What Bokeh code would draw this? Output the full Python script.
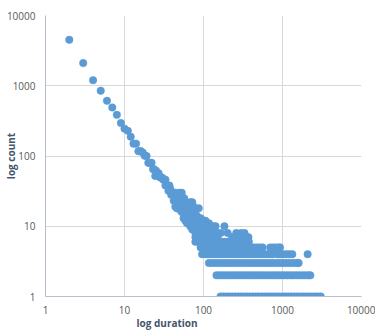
from bokeh.plotting import figure
from bokeh.models import ColumnDataSource, FixedTicker, Title
from bokeh.embed import file_html
from bokeh.resources import INLINE

# ---- data ----
head_points = [(2, 4500), (3, 2100), (4, 1200), (5, 850), (6, 610), (7, 490),
               (8, 385), (9, 295), (10, 245), (11, 228), (12, 188)]

diag_points = [(13, 150), (14, 150), (15, 117), (16, 118), (17, 112), (18, 101),
               (19, 100), (20, 80), (21, 79), (22, 80), (23, 65), (23.5, 65),
               (24.5, 52), (25, 62), (26, 57), (27, 57), (27.5, 52), (28, 50),
               (29, 49), (30, 49), (31, 46), (33, 46), (33, 38), (35, 38),
               (37, 38), (38, 34), (36, 32), (39, 28), (41, 30), (44, 30),
               (49, 30), (53, 30), (50, 29), (45, 25), (47, 27), (42, 23),
               (49, 22), (55, 24), (57, 25), (68, 22), (72, 22), (59, 21),
               (65, 21), (53, 20), (62, 20), (70, 20), (44, 19), (66, 19),
               (75, 19), (46, 18), (56, 18), (62, 18), (87, 18), (51, 17),
               (59, 17), (79, 17), (53, 16), (66, 16), (72, 16), (62, 15),
               (77, 15), (67, 14), (72, 14), (83, 14), (56, 13), (59, 13),
               (72, 13), (80, 13), (92, 13), (59, 12), (66, 12), (80, 12),
               (95, 12), (101, 12), (106, 12), (62, 11), (72, 11), (87, 11),
               (110, 11), (117, 11)]

row10_dur = [68, 75, 83, 92, 101, 111, 122, 133, 142, 184]
row9_dur = [72, 80, 87, 96, 101, 110, 115, 125]
row8_dur = [79, 86, 96, 104, 111, 122, 135, 150, 165, 202, 260, 300, 330]
row7_dur = [79, 86, 94, 102, 111, 121, 132, 144, 150, 230, 250, 273, 297, 324, 353, 370]
row6_dur = [79, 86, 94, 102, 111, 121, 132, 144, 157, 171, 186, 203, 221, 241,
            263, 275, 305, 330, 355, 375]
row5_dur = [92, 100, 109, 119, 130, 141, 154, 168, 183, 199, 217, 237, 258, 281,
            307, 334, 364, 397, 433, 472, 514, 560, 700, 763, 831, 906, 930]
row4_dur = [96, 105, 114, 124, 135, 148, 161, 175, 191, 208, 227, 247, 270, 294,
            320, 349, 380, 415, 452, 492, 537, 585, 638, 695, 750,
            860, 937, 1021, 1113, 1213, 1330, 2080]
row3_dur = [117, 127, 139, 151, 165, 180, 196, 213, 233, 253, 276, 301, 328, 358,
            390, 425, 463, 505, 550, 600, 654, 713, 777, 847, 923, 1006, 1097,
            1195, 1303, 1420, 1548, 1600]
row2_dur = [146, 159, 173, 189, 206, 225, 245, 267, 291, 317, 346, 377, 411, 448,
            488, 532, 580, 632, 689, 751, 819, 892, 973, 1060, 1155, 1260, 1373,
            1497, 1630, 1778, 1938, 2110, 2250]
row1_dur = [164, 178, 194, 212, 231, 252, 275, 300, 326, 355, 387, 422, 460, 500,
            546, 595, 650, 707, 770, 840, 915, 1000, 1090, 1185, 1290, 1410, 1535,
            1675, 1825, 1990, 2170, 2360, 2575, 2800, 3050]

tick_values = [1, 10, 100, 1000, 10000]
tick_labels = ["1", "10", "100", "1000", "10000"]
x_title = "log duration"
y_title = "log count"

# ---- assemble ----
xs, ys = [], []
for d, c in head_points + diag_points:
    xs.append(d); ys.append(c)
for c, row in [(10, row10_dur), (9, row9_dur), (8, row8_dur), (7, row7_dur),
               (6, row6_dur), (5, row5_dur), (4, row4_dur), (3, row3_dur),
               (2, row2_dur), (1, row1_dur)]:
    for d in row:
        xs.append(d); ys.append(c)

src = ColumnDataSource(dict(x=xs, y=ys))

p = figure(width=375, height=333, x_axis_type="log", y_axis_type="log",
           x_range=(1, 10000), y_range=(1, 10000),
           output_backend="svg", toolbar_location=None,
           min_border_left=45, min_border_right=14, min_border_top=15,
           min_border_bottom=37)
p.outline_line_color = None
p.background_fill_color = "white"

p.scatter("x", "y", source=src, size=7.5, fill_color="#5B9BD5",
          line_color="#5B9BD5", line_width=0.5)

grid_col = "#D9D9D9"
axis_col = "#B4BECC"
title_col = "#44546A"
for ax in (p.xaxis[0], p.yaxis[0]):
    ax.ticker = FixedTicker(ticks=tick_values, minor_ticks=[])
    ax.major_label_overrides = {v: t for v, t in zip(tick_values, tick_labels)}
    ax.major_tick_line_color = None
    ax.minor_tick_line_color = None
    ax.major_tick_out = 0
    ax.major_tick_in = 0
    ax.axis_line_color = axis_col
    ax.axis_line_width = 1
    ax.major_label_text_font = "Open Sans"
    ax.major_label_text_font_size = "10px"
    ax.major_label_text_color = "#595959"
p.xaxis.major_label_standoff = 9
p.yaxis.major_label_standoff = 10

# y title on the axis itself, pulled in over the tick-label column
p.yaxis.axis_label = y_title
p.yaxis.axis_label_standoff = -14
p.yaxis.axis_label_text_font = "Open Sans"
p.yaxis.axis_label_text_font_style = "bold"
p.yaxis.axis_label_text_font_size = "10px"
p.yaxis.axis_label_text_color = title_col

p.xgrid.ticker = FixedTicker(ticks=tick_values)
p.ygrid.ticker = FixedTicker(ticks=tick_values)
p.xgrid.grid_line_color = grid_col
p.ygrid.grid_line_color = grid_col

# x title: left-shifted like the reference
p.add_layout(Title(text=x_title, align="left", offset=91, standoff=-6,
                   text_font="Open Sans", text_font_style="bold",
                   text_font_size="10px", text_color=title_col), "below")

open("out.html", "w").write(file_html(p, INLINE))
